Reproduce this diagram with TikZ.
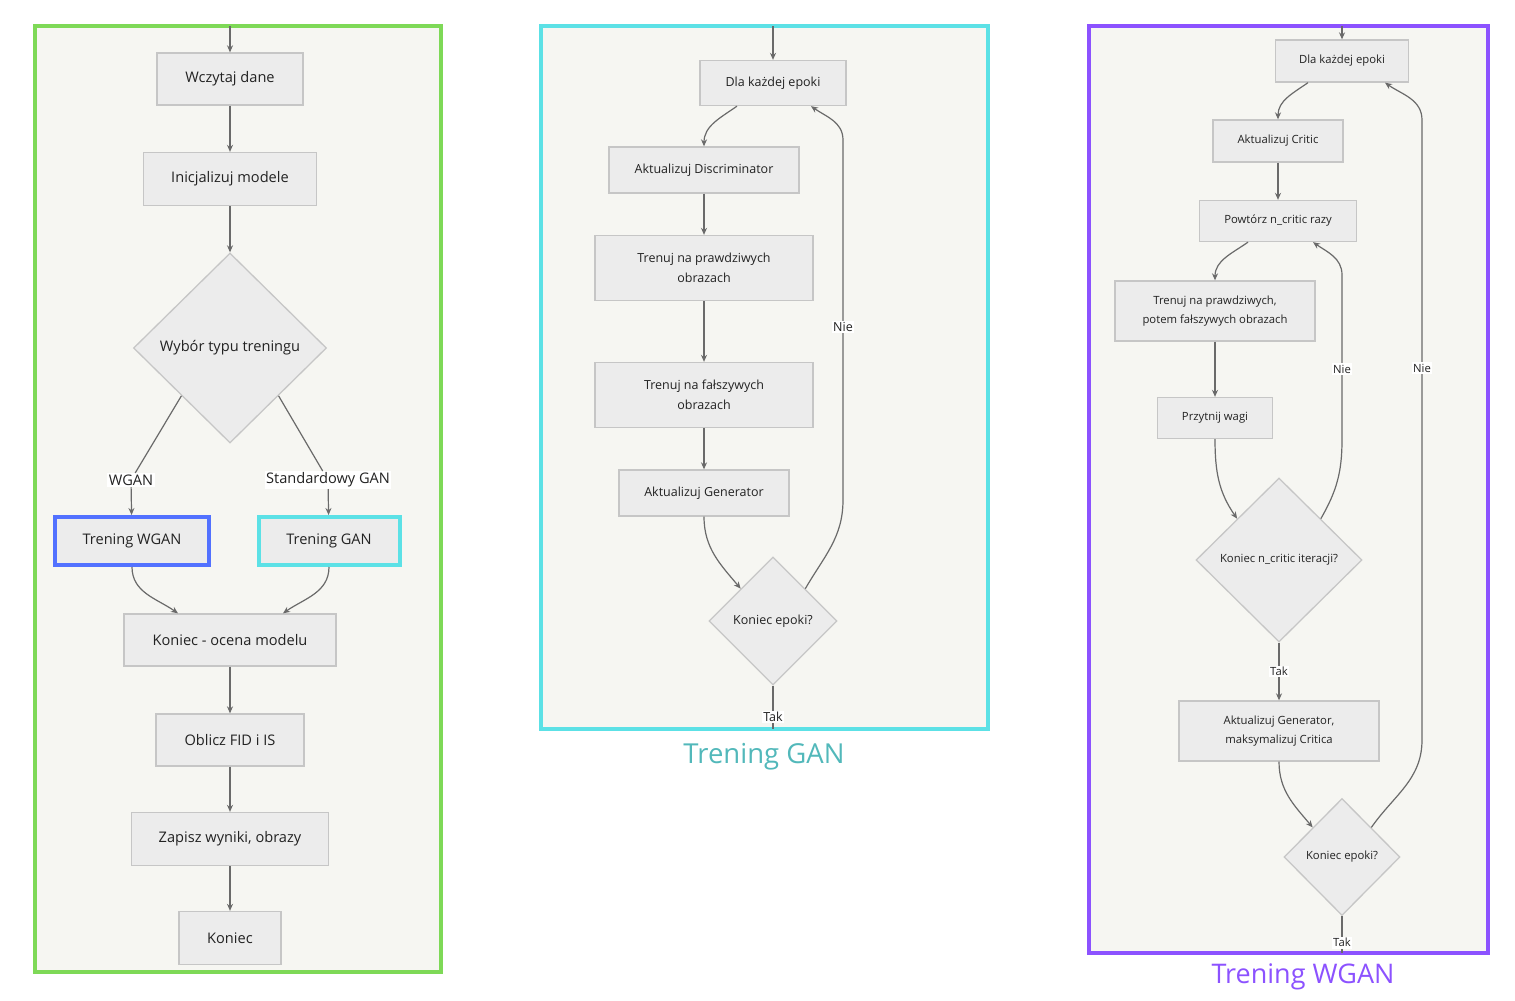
\documentclass[tikz,border=0pt]{standalone}
\usepackage{fontspec}
\setmainfont{Open Sans}
\usetikzlibrary{shapes.geometric,arrows.meta}

\definecolor{panelbg}{HTML}{F6F6F2}
\definecolor{boxfill}{HTML}{ECECEC}
\definecolor{boxline}{HTML}{C6C6C6}
\definecolor{ink}{HTML}{222222}
\definecolor{arrowc}{HTML}{6A6A6A}
\definecolor{mainframe}{HTML}{7ED957}
\definecolor{ganframe}{HTML}{5CE1E6}
\definecolor{wganframe}{HTML}{8C52FF}
\definecolor{wganbox}{HTML}{5271FF}
\definecolor{gancap}{HTML}{52B8BA}

\tikzset{
  box/.style={draw=boxline, fill=boxfill, line width=1.3pt, text=ink, align=center, inner sep=0pt},
  decision/.style={diamond, draw=boxline, fill=boxfill, line width=1.3pt, text=ink, align=center, inner sep=0pt},
  lbl/.style={fill=white, text=ink, inner sep=1.5pt},
  flow/.style={draw=arrowc, line width=1.2pt, -{Stealth[length=7pt,width=6pt]}},
  link/.style={draw=arrowc, line width=1.2pt},
  lfont/.style={font=\fontsize{14.6}{17}\selectfont},
  mfont/.style={font=\fontsize{12.5}{20}\selectfont},
  rfont/.style={font=\fontsize{11.3}{19}\selectfont},
}

\begin{document}
\begin{tikzpicture}[x=1pt, y=-1pt]

\useasboundingbox (0,0) rectangle (1515,1001);

% Panels
\filldraw[fill=panelbg, draw=mainframe, line width=4pt] (35,26) rectangle (441,972);
\filldraw[fill=panelbg, draw=ganframe, line width=4pt] (541,26) rectangle (988,729);
\filldraw[fill=panelbg, draw=wganframe, line width=4pt] (1089,26) rectangle (1488,953);

% Main flow
\coordinate (mainin) at (230,26);
\node (wczytaj) at (230,79) [box, lfont, minimum width=146, minimum height=52] {Wczytaj dane};
\node (init) at (230,179) [box, lfont, minimum width=173, minimum height=53] {Inicjalizuj modele};
\node (choose) at (230,348) [decision, lfont, minimum width=193, minimum height=190] {Wybór typu treningu};
\node (lwgan) at (131,480) [lbl, lfont] {WGAN};
\node (lgan) at (328,480) [lbl, lfont] {Standardowy GAN};
\node (trwgan) at (132,541) [box, lfont, draw=wganbox, line width=4pt, minimum width=154, minimum height=48] {Trening WGAN};
\node (trgan) at (329,541) [box, lfont, draw=ganframe, line width=4pt, minimum width=141, minimum height=48] {Trening GAN};
\node (ocena) at (230,640) [box, lfont, minimum width=212, minimum height=52] {Koniec - ocena modelu};
\node (fid) at (230,740) [box, lfont, minimum width=148, minimum height=52] {Oblicz FID i IS};
\node (zapisz) at (230,839) [box, lfont, minimum width=197, minimum height=53] {Zapisz wyniki, obrazy};
\node (koniec) at (230,938) [box, lfont, minimum width=102, minimum height=53] {Koniec};

\foreach \a/\b in {mainin/wczytaj, wczytaj/init, init/choose, ocena/fid, fid/zapisz, zapisz/koniec}
  \draw[flow] (\a) -- (\b);

\draw[link] (choose.south west) -- (lwgan);
\draw[link] (choose.south east) -- (lgan);
\draw[flow] (lwgan) -- (trwgan);
\draw[flow] (lgan) -- (trgan);
\draw[flow] (trwgan.south) to[out=-90, in=145] ([xshift=-52]ocena.north);
\draw[flow] (trgan.south) to[out=-90, in=35] ([xshift=53]ocena.north);

% GAN training
\coordinate (ganin) at (773,26);
\coordinate (ganout) at (773,729);
\node (gandla) at (773,83) [box, mfont, minimum width=146, minimum height=45] {Dla każdej epoki};
\node (gandisc) at (704,170) [box, mfont, minimum width=190, minimum height=46] {Aktualizuj Discriminator};
\node (ganreal) at (704,268) [box, mfont, minimum width=218, minimum height=65] {Trenuj na prawdziwych\\obrazach};
\node (ganfake) at (704,395) [box, mfont, minimum width=218, minimum height=65] {Trenuj na fałszywych\\obrazach};
\node (gangen) at (704,493) [box, mfont, minimum width=170, minimum height=46] {Aktualizuj Generator};
\node (ganend) at (773,621) [decision, mfont, minimum width=128, minimum height=128] {Koniec epoki?};

\draw[flow] (ganin) -- (gandla);
\draw[flow] ([xshift=-36]gandla.south) to[out=-145, in=90] (gandisc.north);
\foreach \a/\b in {gandisc/ganreal, ganreal/ganfake, ganfake/gangen}
  \draw[flow] (\a) -- (\b);
\draw[flow] (gangen.south) to[out=-90, in=130] (ganend.north west);
\draw[flow] (ganend.north east) to[out=60, in=-90] (843,500)
  -- node[lbl, mfont, pos=0.48] {Nie} (843,140) to[out=90, in=-35] ([xshift=38]gandla.south);
\draw[link] (ganend) -- node[lbl, mfont, pos=0.72] {Tak} (ganout);

% WGAN training
\coordinate (wganin) at (1342,26);
\coordinate (wganout) at (1342,953);
\node (wdla) at (1342,61) [box, rfont, minimum width=133, minimum height=42] {Dla każdej epoki};
\node (critic) at (1278,141) [box, rfont, minimum width=130, minimum height=42] {Aktualizuj Critic};
\node (powtorz) at (1278,221) [box, rfont, minimum width=157, minimum height=41] {Powtórz n\_critic razy};
\node (wtrain) at (1215,311) [box, rfont, minimum width=200, minimum height=60] {Trenuj na prawdziwych,\\potem fałszywych obrazach};
\node (clip) at (1215,418) [box, rfont, minimum width=115, minimum height=41] {Przytnij wagi};
\node (niter) at (1279,560) [decision, rfont, minimum width=166, minimum height=164] {Koniec n\_critic iteracji?};
\node (wgen) at (1279,731) [box, rfont, minimum width=200, minimum height=60] {Aktualizuj Generator,\\maksymalizuj Critica};
\node (wend) at (1342,857) [decision, rfont, minimum width=116, minimum height=117] {Koniec epoki?};

\draw[flow] (wganin) -- (wdla);
\draw[flow] ([xshift=-34]wdla.south) to[out=-145, in=90] (critic.north);
\draw[flow] (critic) -- (powtorz);
\draw[flow] ([xshift=-30]powtorz.south) to[out=-145, in=90] (wtrain.north);
\draw[flow] (wtrain) -- (clip);
\draw[flow] (clip.south) to[out=-90, in=125] (niter.north west);
\draw[flow] (niter.north east) to[out=60, in=-90] (1342,440)
  -- node[lbl, rfont, pos=0.43] {Nie} (1342,275) to[out=90, in=-35] ([xshift=35]powtorz.south);
\draw[flow] (niter) -- node[lbl, rfont] {Tak} (wgen);
\draw[flow] (wgen.south) to[out=-90, in=130] (wend.north west);
\draw[flow] (wend.north east) to[out=55, in=-90] (1422,740)
  -- node[lbl, rfont, pos=0.6] {Nie} (1422,120) to[out=90, in=-35] ([xshift=43]wdla.south);
\draw[link] (wend) -- node[lbl, rfont, pos=0.72] {Tak} (wganout);

% Captions
\node (capgan) at (764,757) [text=gancap, font=\fontsize{27.5}{32}\selectfont] {Trening GAN};
\node (capwgan) at (1303,977) [text=wganframe, font=\fontsize{27}{32}\selectfont] {Trening WGAN};

\end{tikzpicture}
\end{document}
